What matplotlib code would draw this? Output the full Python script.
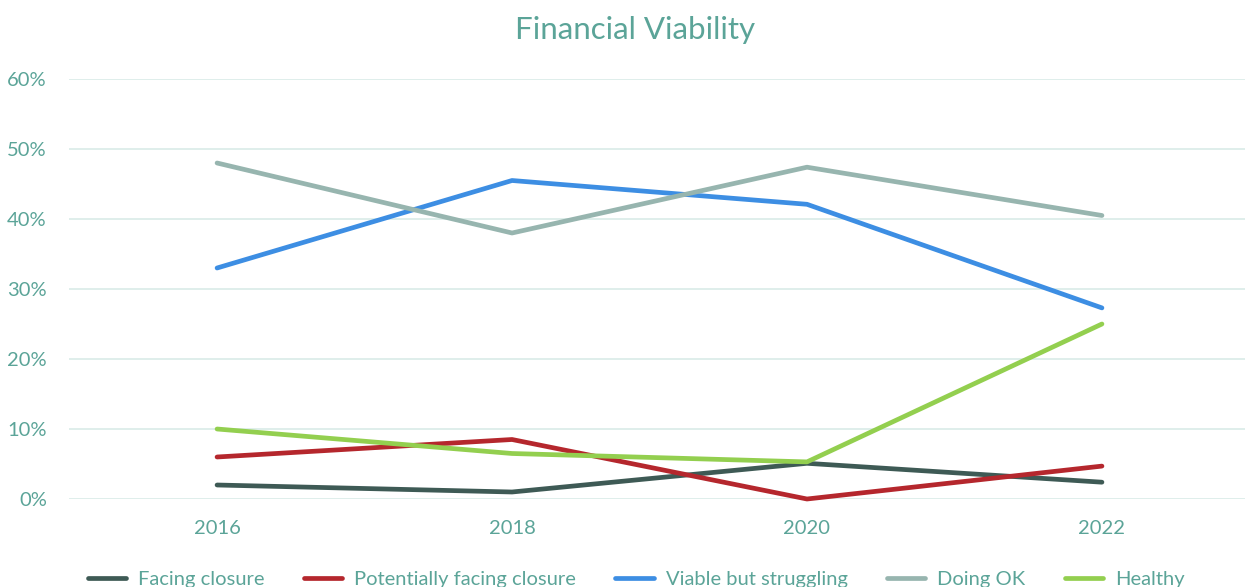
import matplotlib
matplotlib.use("Agg")
import matplotlib.pyplot as plt
from matplotlib.ticker import FuncFormatter

plt.rcParams['font.family'] = ['Lato', 'DejaVu Sans']

years = ["2016", "2018", "2020", "2022"]
facing_closure = [2.0, 1.0, 5.1, 2.4]
potentially_facing = [6.0, 8.5, 0.0, 4.7]
viable_struggling = [33.0, 45.5, 42.1, 27.3]
doing_ok = [48.0, 38.0, 47.4, 40.5]
healthy = [10.0, 6.5, 5.3, 25.0]

series = [
    ("Facing closure", facing_closure, "#3e5a55"),
    ("Potentially facing closure", potentially_facing, "#b5272d"),
    ("Viable but struggling", viable_struggling, "#3d8ee3"),
    ("Doing OK", doing_ok, "#97b5af"),
    ("Healthy", healthy, "#93cf4f"),
]

text_color = "#5ba498"
grid_color = "#d9ebe7"

W, H = 1245, 587
fig = plt.figure(figsize=(W / 100, H / 100), dpi=100)
ax = fig.add_axes([69 / W, (H - 499) / H, (W - 69) / W, 420 / H])

x = list(range(len(years)))
handles = []
for name, vals, col in series:
    ln, = ax.plot(x, vals, color=col, lw=3.4, solid_capstyle='round',
                  solid_joinstyle='round', clip_on=False, label=name, zorder=3)
    handles.append(ln)

ax.set_ylim(0, 60)
ax.set_yticks([0, 10, 20, 30, 40, 50, 60])
ax.yaxis.set_major_formatter(FuncFormatter(lambda v, p: f"{int(v)}%"))
ax.set_xlim(-0.502, 3.485)
ax.set_xticks(x)
ax.set_xticklabels(years)

ax.grid(axis='y', color=grid_color, lw=1.2, zorder=0)
for s in ax.spines.values():
    s.set_visible(False)
ax.tick_params(axis='both', length=0, colors=text_color, labelsize=14.5)
ax.tick_params(axis='y', pad=16)
ax.tick_params(axis='x', pad=15)

fig.text(0.51, 1 - 30 / H, "Financial Viability", ha='center', va='center',
         fontsize=22.5, color=text_color)

leg = fig.legend(handles=handles, loc='center', ncol=5,
                 bbox_to_anchor=(0.511, 1 - 579 / H), frameon=False,
                 fontsize=14.5, handlelength=1.9, columnspacing=1.95,
                 handletextpad=0.6, labelcolor=text_color)

fig.savefig("out.png", dpi=100)
